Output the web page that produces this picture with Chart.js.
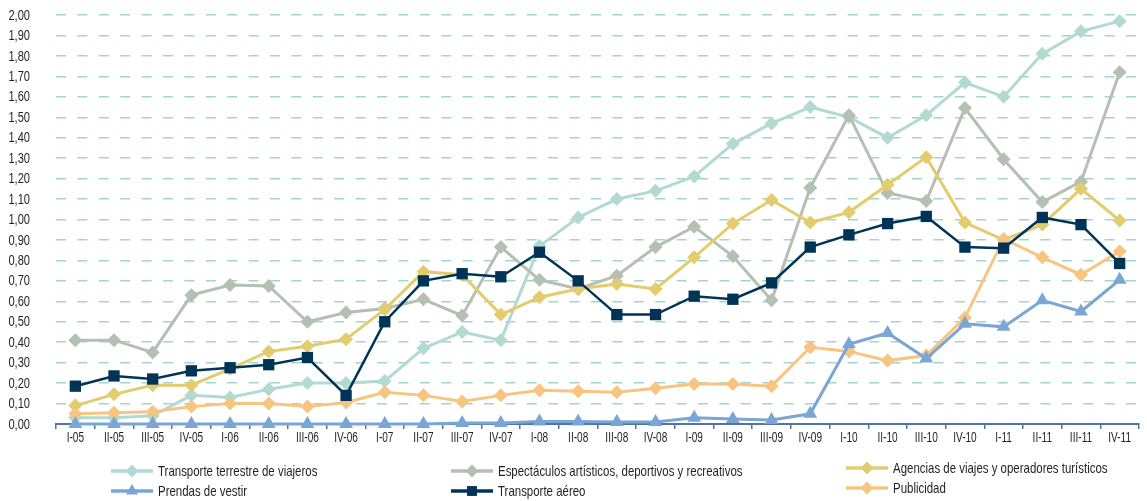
<!DOCTYPE html>
<html>
<head>
<meta charset="utf-8">
<script src="https://cdn.jsdelivr.net/npm/chart.js@4.4.1/dist/chart.umd.min.js"></script>
<style>
html,body{margin:0;padding:0;background:#fff;}
#wrap{position:relative;width:1147px;height:501px;}
</style>
</head>
<body>
<div id="wrap"><canvas id="c" width="1147" height="501"></canvas></div>
<script>
const categories = ["I-05","II-05","III-05","IV-05","I-06","II-06","III-06","IV-06","I-07","II-07","III-07","IV-07","I-08","II-08","III-08","IV-08","I-09","II-09","III-09","IV-09","I-10","II-10","III-10","IV-10","I-11","II-11","III-11","IV-11"];

const nameTerrestre = "Transporte terrestre de viajeros";
const nameEspectaculos = "Espectáculos artísticos, deportivos y recreativos";
const nameAgencias = "Agencias de viajes y operadores turísticos";
const namePrendas = "Prendas de vestir";
const nameAereo = "Transporte aéreo";
const namePublicidad = "Publicidad";

const terrestre = [0.03,0.03,0.04,0.14,0.13,0.17,0.20,0.20,0.21,0.37,0.45,0.41,0.87,1.01,1.10,1.14,1.21,1.37,1.47,1.55,1.50,1.40,1.51,1.67,1.60,1.81,1.92,1.97];
const espectaculos = [0.41,0.41,0.35,0.63,0.68,0.675,0.50,0.545,0.565,0.61,0.53,0.865,0.705,0.66,0.725,0.865,0.965,0.82,0.605,1.155,1.51,1.13,1.09,1.545,1.295,1.085,1.185,1.72];
const agencias = [0.09,0.145,0.19,0.19,0.27,0.355,0.38,0.415,0.56,0.745,0.73,0.535,0.62,0.66,0.685,0.66,0.815,0.98,1.095,0.985,1.035,1.17,1.305,0.985,0.90,0.975,1.15,0.995];
const prendas = [0,0,0,0,0,0,0,0,0,0,0.005,0.005,0.012,0.012,0.01,0.01,0.03,0.025,0.02,0.05,0.39,0.445,0.32,0.49,0.475,0.605,0.55,0.705];
const aereo = [0.185,0.235,0.22,0.26,0.275,0.29,0.325,0.14,0.50,0.70,0.735,0.72,0.84,0.70,0.535,0.535,0.625,0.61,0.69,0.865,0.925,0.98,1.015,0.865,0.86,1.01,0.975,0.785];
const publicidad = [0.05,0.055,0.06,0.085,0.10,0.10,0.085,0.105,0.155,0.14,0.11,0.14,0.165,0.16,0.155,0.175,0.195,0.195,0.185,0.375,0.355,0.31,0.335,0.52,0.905,0.815,0.73,0.845];

const yMin = 0, yMax = 2, yStep = 0.1;

const FONT = "'Liberation Sans', Arial, sans-serif";
const TEXT = '#231f20';

function ds(label, data, color, style, radius, width, order){
  return {label, data, borderColor: color, backgroundColor: color,
    pointBackgroundColor: color, pointBorderColor: color, pointBorderWidth: 0,
    pointStyle: style, pointRadius: radius, pointHoverRadius: radius,
    borderWidth: width, tension: 0, order, fill: false, clip: false};
}

const datasets = [
  ds(nameTerrestre, terrestre, '#b2dad3', 'rectRot', 7, 3, 5),
  ds(nameEspectaculos, espectaculos, '#b5bfb2', 'rectRot', 7, 3, 4),
  ds(nameAgencias, agencias, '#e3cc6d', 'rectRot', 7, 3, 3),
  ds(namePrendas, prendas, '#7aa6d5', 'triangle', 8, 3, 1),
  ds(nameAereo, aereo, '#003457', 'rect', 8, 2.5, 0),
  ds(namePublicidad, publicidad, '#f8c580', 'rectRot', 7, 3, 2)
];

// draw condensed text (horizontal squeeze) at x,y
function condText(ctx, text, x, y, size, k, align){
  ctx.save();
  ctx.font = size + 'px ' + FONT;
  ctx.fillStyle = TEXT;
  ctx.textAlign = align;
  ctx.textBaseline = 'middle';
  ctx.translate(x, y);
  ctx.scale(k, 1);
  ctx.fillText(text, 0, 0);
  ctx.restore();
}

const labelsPlugin = {
  id: 'condLabels',
  afterDraw(chart){
    const ctx = chart.ctx;
    const ys = chart.scales.y, xs = chart.scales.x;
    ys.ticks.forEach(t => {
      const py = ys.getPixelForValue(t.value);
      condText(ctx, Number(t.value).toFixed(2).replace('.', ','), chart.chartArea.left - 26, py + 0.5, 15, 0.74, 'right');
    });
    xs.ticks.forEach((t, i) => {
      const px = xs.getPixelForTick(i);
      condText(ctx, chart.data.labels[t.value], px, chart.chartArea.bottom + 14, 14, 0.72, 'center');
    });
  }
};

const legendPlugin = {
  id: 'customLegend',
  afterDraw(chart, args, opts){
    const ctx = chart.ctx;
    opts.items.forEach(it => {
      const d = chart.data.datasets[it.index];
      ctx.save();
      ctx.strokeStyle = d.borderColor;
      ctx.lineWidth = 3.5;
      ctx.beginPath();
      ctx.moveTo(it.x, it.y);
      ctx.lineTo(it.x + 42, it.y);
      ctx.stroke();
      ctx.fillStyle = d.pointBackgroundColor;
      ctx.strokeStyle = d.pointBackgroundColor;
      const r = d.pointStyle === 'rectRot' ? 6.5 : 7;
      if (Chart.helpers && Chart.helpers.drawPoint) {
        Chart.helpers.drawPoint(ctx, {pointStyle: d.pointStyle, radius: r, borderWidth: 0, rotation: 0}, it.x + 21, it.y);
      }
      ctx.restore();
      condText(ctx, d.label, it.x + 47, it.y + 1, 14.5, 0.79, 'left');
    });
  }
};

const chart = new Chart(document.getElementById('c'), {
  type: 'line',
  data: {labels: categories, datasets},
  plugins: [labelsPlugin, legendPlugin],
  options: {
    responsive: false,
    animation: false,
    layout: {padding: {left: 0, right: 5, top: 15, bottom: 57}},
    plugins: {
      legend: {display: false},
      tooltip: {enabled: false},
      customLegend: {items: [
        {index: 0, x: 111, y: 471},
        {index: 1, x: 451, y: 471},
        {index: 2, x: 846, y: 468},
        {index: 3, x: 111, y: 491},
        {index: 4, x: 451, y: 491},
        {index: 5, x: 846, y: 488}
      ]}
    },
    scales: {
      x: {
        offset: true,
        grid: {offset: true, drawOnChartArea: false, drawTicks: true, tickLength: 5, color: '#4d75aa', lineWidth: 1.5},
        border: {display: true, color: '#4d75aa', width: 2},
        ticks: {display: false, autoSkip: false, maxRotation: 0},
        afterFit(s){ s.height = 20; }
      },
      y: {
        min: yMin, max: yMax,
        grid: {
          color: c => (c.tick && Math.abs(c.tick.value) < 1e-9) ? 'rgba(0,0,0,0)' : '#a3d6cb',
          lineWidth: 1.5, drawTicks: false
        },
        border: {display: false, dash: [10, 11.4]},
        ticks: {display: false, stepSize: yStep},
        afterFit(s){ s.width = 56; }
      }
    }
  }
});

// fine-tune plot area to the reference geometry
(function(){
  const ca = chart.chartArea;
  const p = chart.config.options.layout.padding;
  const np = {left: p.left, right: p.right + (ca.right - 1142), top: p.top + (15 - ca.top), bottom: p.bottom + (ca.bottom - 424)};
  if (np.top < 0) np.top = 0;
  chart.config.options.layout.padding = np;
  chart.update();
})();
</script>
</body>
</html>
